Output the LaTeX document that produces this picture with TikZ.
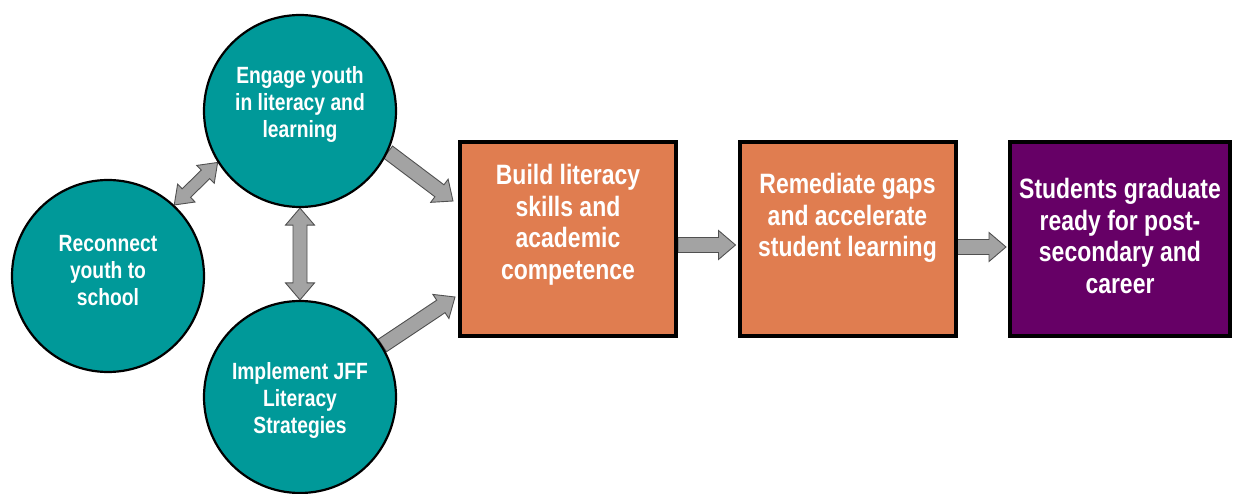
\documentclass[tikz,border=0pt]{standalone}
\usepackage{fontspec}
\setmainfont{Liberation Sans}[FakeStretch=0.82]
\usetikzlibrary{calc,backgrounds}
\definecolor{tealc}{HTML}{009999}
\definecolor{orng}{HTML}{E07D50}
\definecolor{purp}{HTML}{660066}
\definecolor{arrfill}{HTML}{A3A3A3}
\definecolor{arrline}{HTML}{505050}
\tikzset{
 circ/.style={circle, fill=tealc, draw=black, line width=2.2pt, minimum size=192pt, inner sep=0pt},
 ctext/.style={text=white, font=\fontsize{23.5}{27}\selectfont\bfseries, align=center, inner sep=0pt},
 obox/.style={rectangle, fill=orng, draw=black, line width=4pt, minimum width=216pt, minimum height=194pt},
 pbox/.style={obox, fill=purp},
 btext/.style={text=white, font=\fontsize{28}{31.5}\selectfont\bfseries, align=center, inner sep=0pt},
 blk/.style={fill=arrfill, draw=arrline, line width=0.9pt, line join=miter},
}
\newcommand\onewayarrow[2]{%
 \coordinate (qs) at (#1); \coordinate (qe) at (#2);
 \coordinate (qh) at ($(qe)!17pt!(qs)$);
 \draw[blk] ($(qs)!7.5pt!90:(qe)$) -- ($(qh)!7.5pt!90:(qe)$) -- ($(qh)!14.5pt!90:(qe)$) -- (qe)
   -- ($(qh)!14.5pt!-90:(qe)$) -- ($(qh)!7.5pt!-90:(qe)$) -- ($(qs)!7.5pt!-90:(qe)$) -- cycle;}
\newcommand\twowayarrow[4]{%
 \coordinate (qs) at (#1); \coordinate (qe) at (#2);
 \coordinate (qh) at ($(qe)!17pt!(qs)$);
 \coordinate (qg) at ($(qs)!17pt!(qe)$);
 \draw[blk] (qs) -- ($(qg)!#4!90:(qe)$) -- ($(qg)!#3!90:(qe)$) -- ($(qh)!#3!90:(qe)$) -- ($(qh)!#4!90:(qe)$) -- (qe)
   -- ($(qh)!#4!-90:(qe)$) -- ($(qh)!#3!-90:(qe)$) -- ($(qg)!#3!-90:(qe)$) -- ($(qg)!#4!-90:(qe)$) -- cycle;}
\begin{document}
\begin{tikzpicture}[x=1pt,y=-1pt]
\useasboundingbox (0,0) rectangle (1235,494);
% circles
\node[circ] (eng) at (300,111) {};
\node[circ] (rec) at (108,276) {};
\node[circ] (imp) at (300,397) {};
\node[ctext] (engt) at ($(eng)+(0,-7)$) {Engage youth\\in literacy and\\learning};
\node[ctext] (rect) at ($(rec)+(0,-5)$) {Reconnect\\youth to\\school};
\node[ctext] (impt) at ($(imp)+(0,3)$) {Implement JFF\\Literacy\\Strategies};
% boxes
\node[obox] (build) at (568,239) {};
\node[obox] (rem) at (847.5,239) {};
\node[pbox, minimum width=220pt] (stu) at (1120,239) {};
\node[btext] (buildt) at ($(build)+(0,-14)$) {Build literacy\\skills and\\academic\\competence};
\node[btext] (remt) at ($(rem)+(0,-21)$) {Remediate gaps\\and accelerate\\student learning};
\node[btext] (stut) at ($(stu)+(0,-3)$) {Students graduate\\ready for post-\\secondary and\\career};
% arrows
\begin{scope}[on background layer]
\twowayarrow{rec.47}{eng.212}{6pt}{12.5pt}
\twowayarrow{eng.south}{imp.north}{7pt}{14.5pt}
\onewayarrow{eng.-25}{$(build.north west)+(-5,61)$}
\onewayarrow{imp.32}{$(build.south west)+(-3,-41)$}
\onewayarrow{$(build.east)+(0,6)$}{$(rem.west)+(-2,6)$}
\onewayarrow{$(rem.east)+(0,8)$}{$(stu.west)+(-2,8)$}
\end{scope}
\end{tikzpicture}
\end{document}
